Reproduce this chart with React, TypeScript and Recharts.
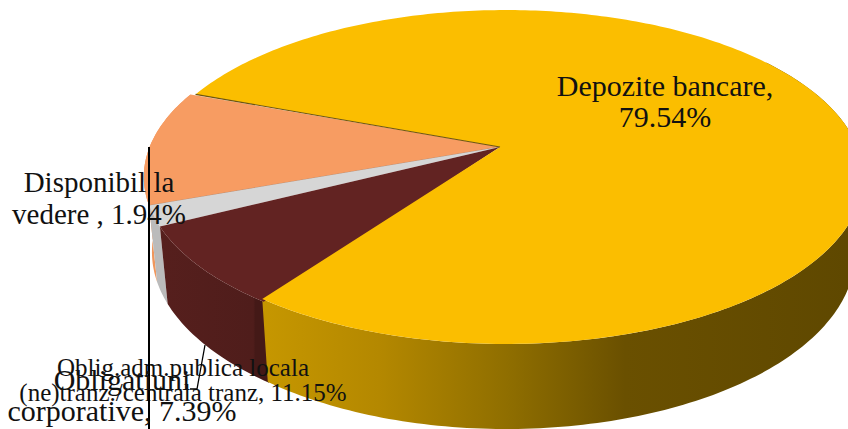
import React from "react";
import { PieChart, Pie } from "recharts";

// date
const categories = [
  "Oblig.adm.publica locala (ne)tranz./centrala tranz",
  "Disponibil la vedere",
  "Obligatiuni corporative",
  "Depozite bancare",
];
const shares = [11.15, 1.94, 7.39, 79.54];
const labelLines = [
  ["Oblig.adm.publica locala", "(ne)tranz./centrala tranz, 11.15%"],
  ["Disponibil la", "vedere , 1.94%"],
  ["Obligatiuni", "corporative, 7.39%"],
  ["Depozite bancare,", "79.54%"],
];
const topColors = ["#F79C62", "#D6D6D6", "#622322", "#FBBE00"];
const wallFills = ["#F0965C", "#BBBBBB", "url(#wallMaroon)", "url(#wallGold)"];

// pozitia si marimea etichetelor
const labelBoxes = [
  { x: 183, y: [376, 401], size: 25 },
  { x: 99, y: [192, 224], size: 29 },
  { x: 122, y: [390, 421], size: 30 },
  { x: 665, y: [96, 127], size: 30 },
];

const rows = categories.map((name, i) => ({ name, value: shares[i], fill: topColors[i] }));

const WIDTH = 848;
const HEIGHT = 429;
const APEX_X = 500;
const APEX_Y = 147;
const RADIUS = 100;
const START_ANGLE = 160.1;

// proiectie in perspectiva: cercul placintei devine elipsa, centrul ramane deplasat
const TILT = 0.1856;
const TOP_PLANE = { a: 3.51, b: 1.612, dx: 1, dy: -1 };
const BOTTOM_PLANE = { a: 3.43, b: 1.69, dx: 1, dy: 72.5 };
// felia mare e usor decalata spre dreapta in original
const GOLD_TOP = { ...TOP_PLANE, dx: 6 };
const GOLD_BOTTOM = { ...BOTTOM_PLANE, dx: 6, dy: 74.5 };
const GOLD = 3;
const MAROON = 2;

type Plane = typeof TOP_PLANE;

function project(cx: number, cy: number, r: number, deg: number, plane: Plane) {
  const u = Math.cos((deg * Math.PI) / 180);
  const v = Math.sin((deg * Math.PI) / 180);
  const w = 1 + TILT * v;
  return [cx + plane.dx + (plane.a * r * u) / w, cy + plane.dy - (plane.b * r * v) / w];
}

function arcPoints(p: any, from: number, to: number, plane: Plane) {
  const pts: string[] = [];
  const steps = Math.max(2, Math.ceil(Math.abs(to - from)));
  for (let i = 0; i <= steps; i++) {
    const deg = from + ((to - from) * i) / steps;
    const [x, y] = project(p.cx, p.cy, p.outerRadius, deg, plane);
    pts.push(`${x.toFixed(2)},${y.toFixed(2)}`);
  }
  return pts;
}

function TopFace(p: any) {
  const idx = categories.indexOf(p.name);
  const plane = idx === GOLD ? GOLD_TOP : TOP_PLANE;
  // visiniul intra putin sub felia aurie ca sa nu ramana gol
  const end = idx === MAROON ? p.endAngle + 1.2 : p.endAngle;
  const arc = arcPoints(p, p.startAngle, end, plane);
  return (
    <g>
      <path d={`M${p.cx},${p.cy} L${arc.join(" L")} Z`} fill={p.fill} stroke="none" />
      {idx === 0 && <path d={`M${p.cx},${p.cy} L${arc[arc.length - 1]}`} stroke="#a98a78" strokeWidth={0.8} fill="none" />}
      {idx === GOLD && (
        <path d={`M${p.cx},${p.cy} L${arc[arc.length - 1]}`} stroke="#6e5410" strokeWidth={1.2} fill="none" />
      )}
    </g>
  );
}

function WallFace(p: any) {
  const idx = categories.indexOf(p.name);
  const isGold = idx === GOLD;
  // peretele din spate e oricum acoperit de fata de sus
  const end = idx === MAROON ? p.endAngle + 1.2 : Math.min(p.endAngle, 395);
  const upper = arcPoints(p, p.startAngle, end, isGold ? GOLD_TOP : TOP_PLANE);
  const lower = arcPoints(p, end, p.startAngle, isGold ? GOLD_BOTTOM : BOTTOM_PLANE);
  return <path d={`M${upper.join(" L")} L${lower.join(" L")} Z`} fill={wallFills[idx]} stroke="none" />;
}

function SliceLabel(p: any) {
  const idx = categories.indexOf(p.name);
  const box = labelBoxes[idx];
  return (
    <g key={p.name}>
      {labelLines[idx].map((line, i) => (
        <text
          key={line}
          x={box.x}
          y={box.y[i]}
          textAnchor="middle"
          fontFamily="'Liberation Serif', serif"
          fontSize={box.size}
          fill="#111111"
        >
          {line}
        </text>
      ))}
      {idx === 1 && <line x1={149} y1={147} x2={149} y2={429} stroke="#000000" strokeWidth={2} />}
      {idx === 0 && <polyline points="205,345 197,389 190,389" stroke="#000000" strokeWidth={1.3} fill="none" />}
    </g>
  );
}

export default function App() {
  return (
    <div style={{ position: "absolute", left: 0, top: 0, width: WIDTH, height: HEIGHT, overflow: "hidden", background: "#fff" }}>
      <PieChart width={WIDTH} height={HEIGHT} margin={{ top: 0, right: 0, bottom: 0, left: 0 }}>
        <defs>
          <linearGradient id="wallGold" gradientUnits="userSpaceOnUse" x1={262} y1={0} x2={848} y2={0}>
            <stop offset="0" stopColor="#C69700" />
            <stop offset="0.2" stopColor="#B48800" />
            <stop offset="0.42" stopColor="#8F6E00" />
            <stop offset="0.62" stopColor="#6A5000" />
            <stop offset="1" stopColor="#5F4800" />
          </linearGradient>
          <linearGradient id="wallMaroon" gradientUnits="userSpaceOnUse" x1={160} y1={0} x2={266} y2={0}>
            <stop offset="0" stopColor="#561F1D" />
            <stop offset="0.88" stopColor="#4F1D1B" />
            <stop offset="0.9" stopColor="#441917" />
            <stop offset="1" stopColor="#441917" />
          </linearGradient>
        </defs>
        <Pie
          data={rows}
          dataKey="value"
          nameKey="name"
          cx={APEX_X}
          cy={APEX_Y}
          outerRadius={RADIUS}
          startAngle={START_ANGLE}
          endAngle={START_ANGLE + 360}
          stroke="none"
          shape={WallFace}
          isAnimationActive={false}
        />
        <Pie
          data={rows}
          dataKey="value"
          nameKey="name"
          cx={APEX_X}
          cy={APEX_Y}
          outerRadius={RADIUS}
          startAngle={START_ANGLE}
          endAngle={START_ANGLE + 360}
          stroke="none"
          shape={TopFace}
          label={SliceLabel}
          labelLine={false}
          isAnimationActive={false}
        />
      </PieChart>
    </div>
  );
}
